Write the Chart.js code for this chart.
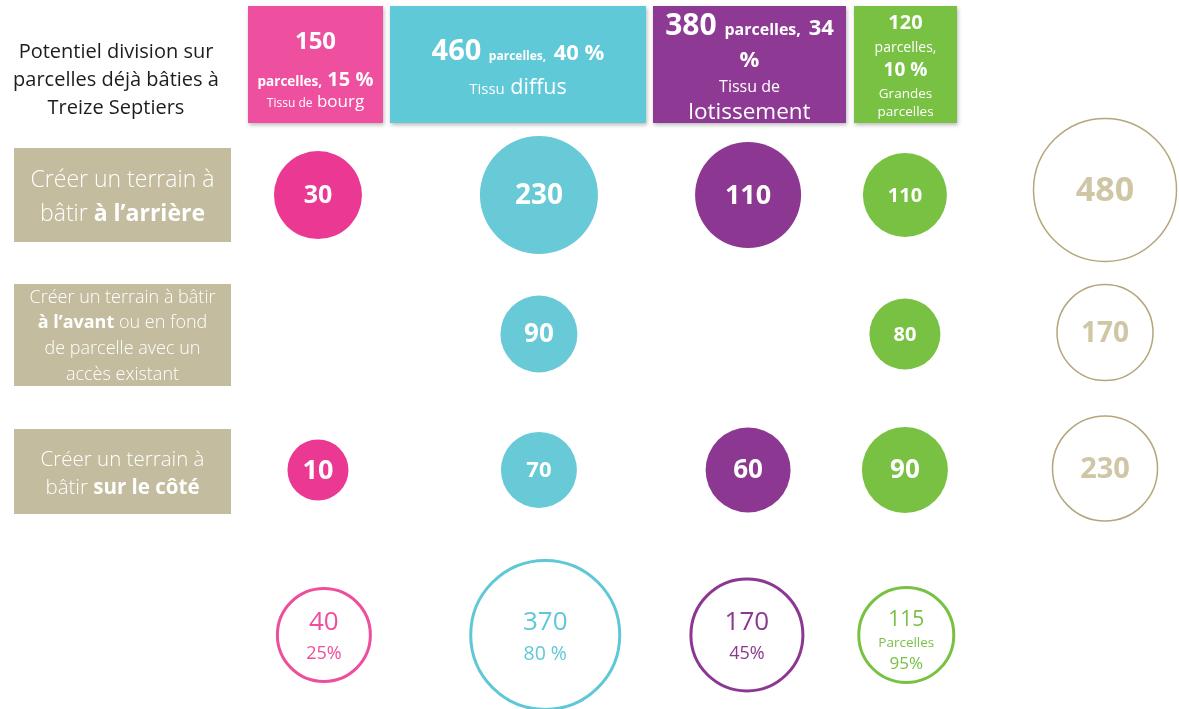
<!DOCTYPE html>
<html lang="fr">
<head>
<meta charset="utf-8">
<title>Potentiel division sur parcelles déjà bâties à Treize Septiers</title>
<script src="https://cdn.jsdelivr.net/npm/chart.js@4.4.1/dist/chart.umd.min.js"></script>
<style>
  html, body { margin: 0; padding: 0; background: #fff; overflow: hidden; }
  body { width: 1179px; height: 709px; position: relative; font-family: "Open Sans", sans-serif; }
  #bulles { position: absolute; left: 0; top: 0; }
  .titre { position: absolute; left: 0; top: 37px; width: 232px; text-align: center;
           font-size: 20px; line-height: 28px; color: #1d1d1d; }
  .entete { position: absolute; top: 6px; height: 117px; color: #fff; text-align: center;
            box-shadow: 1px 2px 4px rgba(0,0,0,0.28); }
  .entete div { position: absolute; left: 0; right: 0; height: 30px; line-height: 30px; white-space: nowrap; }
  .entete span, .entete b { line-height: 1; }
  .mode { position: absolute; left: 14px; width: 217px; background: #c3bc9f; color: #fff;
          text-align: center; font-weight: 300; display: flex; flex-direction: column; justify-content: center; }
  .mode b { font-weight: 700; }
</style>
</head>
<body>
<canvas id="bulles" width="1179" height="709"></canvas>
<div class="titre">Potentiel division sur<br>parcelles déjà bâties à<br>Treize Septiers</div>
<div class="mode" style="top:148px;height:94px;font-size:23px;line-height:34px;">
  <div>Créer un terrain à</div><div>bâtir <b>à l’arrière</b></div>
</div>
<div class="mode" style="top:284px;height:102px;font-size:18px;line-height:25.7px;">
  <div>Créer un terrain à bâtir</div><div><b>à l’avant</b> ou en fond</div>
  <div>de parcelle avec un</div><div>accès existant</div>
</div>
<div class="mode" style="top:429px;height:85px;font-size:20.5px;line-height:28px;">
  <div>Créer un terrain à</div><div>bâtir <b>sur le côté</b></div>
</div>
<script>
// Parcelles déjà bâties par type de tissu
const tissus = ['Tissu de bourg', 'Tissu diffus', 'Tissu de lotissement', 'Grandes parcelles'];
const parcellesBaties = [150, 460, 380, 120];
const partParcelles = [15, 40, 34, 10];

// Terrains à bâtir possibles, par mode de division
const arriere = [30, 230, 110, 110];
const avant = [null, 90, null, 80];
const cote = [10, 70, 60, 90];
const totalParMode = [480, 170, 230];

// Potentiel par tissu
const potentiel = [40, 370, 170, 115];
const tauxPotentiel = [25, 80, 45, 95];

// mise en page (unités des échelles) et styles
const colX = [0, 1.123, 2.186, 2.983, 4];
const colXPotentiel = [0.03, 1.155, 2.18, 2.99];
const rowY = [0, 0.948, 1.875, 3];
const couleurs = ['#ea3893', '#69cad7', '#8c3892', '#78c142'];
const couleursTexte = ['#ee4f9c', '#5ec8d6', '#8c3892', '#78c142'];
const couleursEntete = ['#ee4f9e', '#5fc9d8', '#8e3a94', '#78c142'];
const rayons = {
  arriere: [44, 59, 53, 42],
  avant: [0, 38.5, 0, 35.5],
  cote: [30.5, 38, 42.5, 43],
  total: [71.5, 48, 52.5],
  potentiel: [46.5, 74.5, 56, 47.5]
};
const taillesTexte = {
  arriere: [25, 28, 27, 20],
  avant: [0, 26, 0, 20],
  cote: [27, 22, 26, 26],
  total: [34, 28, 29]
};

// en-têtes colorés
const entetes = [
  { left: 248, width: 135, lignes: [
    { y: 40, size: 24, html: n => `<b>${n}</b>` },
    { y: 79, size: 20, html: (n, p) => `<b style="font-size:13.5px">parcelles,</b> <b>${p} %</b>` },
    { y: 101, size: 17, html: () => `<span style="font-size:12px">Tissu de</span> bourg` }
  ]},
  { left: 390, width: 256, lignes: [
    { y: 49, size: 29, html: (n, p) => `<b>${n}</b> <b style="font-size:12px">parcelles,</b> <b style="font-size:22px">${p} %</b>` },
    { y: 86, size: 21.5, html: () => `<span style="font-size:15px">Tissu</span> diffus` }
  ]},
  { left: 653, width: 193, lignes: [
    { y: 24, size: 30, html: (n, p) => `<b>${n}</b> <b style="font-size:16px">parcelles,</b> <b style="font-size:22px">${p}</b>` },
    { y: 58, size: 22, html: () => `<b>%</b>` },
    { y: 86, size: 16, html: () => `Tissu de` },
    { y: 111, size: 22.5, html: () => `lotissement` }
  ]},
  { left: 854, width: 103, lignes: [
    { y: 22, size: 20, html: n => `<b>${n}</b>` },
    { y: 47, size: 14, html: () => `parcelles,` },
    { y: 69, size: 19, html: (n, p) => `<b>${p} %</b>` },
    { y: 93, size: 13.5, html: () => `Grandes` },
    { y: 111, size: 13.5, html: () => `parcelles` }
  ]}
];

entetes.forEach((e, i) => {
  const box = document.createElement('div');
  box.className = 'entete';
  box.title = tissus[i];
  box.style.left = e.left + 'px';
  box.style.width = e.width + 'px';
  box.style.background = couleursEntete[i];
  e.lignes.forEach(l => {
    const d = document.createElement('div');
    d.style.top = (l.y - 6 - 15) + 'px';
    d.style.fontSize = l.size + 'px';
    d.innerHTML = l.html(parcellesBaties[i], partParcelles[i]);
    box.appendChild(d);
  });
  document.body.appendChild(box);
});

function rangee(nom, valeurs, ligne) {
  const pts = [];
  valeurs.forEach((v, i) => {
    if (v !== null) pts.push({ x: colX[i], y: rowY[ligne], r: rayons[nom][i], v: v, col: i });
  });
  return {
    label: nom,
    data: pts,
    backgroundColor: pts.map(p => couleurs[p.col]),
    borderWidth: 0,
    clip: false,
    etiquettes: p => [{ text: String(p.v), font: `bold ${taillesTexte[nom][p.col]}px "Open Sans"`, color: '#fff', dy: 1 }]
  };
}

const datasets = [
  rangee('arriere', arriere, 0),
  rangee('avant', avant, 1),
  rangee('cote', cote, 2),
  {
    label: 'total',
    data: totalParMode.map((v, i) => ({ x: colX[4], y: rowY[i] - (i === 0 ? 0.035 : 0.01), r: rayons.total[i], v: v, col: i })),
    backgroundColor: '#fff',
    borderColor: '#b4a67b',
    borderWidth: 1.5,
    clip: false,
    etiquettes: p => [{ text: String(p.v), font: `bold ${taillesTexte.total[p.col]}px "Open Sans"`, color: '#cfc6a6', dy: 1 }]
  },
  {
    label: 'potentiel',
    data: potentiel.map((v, i) => ({ x: colXPotentiel[i], y: rowY[3], r: rayons.potentiel[i], v: v, col: i })),
    backgroundColor: '#fff',
    borderColor: couleursTexte,
    borderWidth: 3,
    clip: false,
    etiquettes: p => {
      const c = couleursTexte[p.col];
      const t = tauxPotentiel[p.col];
      if (p.col === 3) {
        return [
          { text: String(p.v), font: '21px "Open Sans"', color: c, dy: -15 },
          { text: 'Parcelles', font: '13.5px "Open Sans"', color: c, dy: 8 },
          { text: t + '%', font: '17px "Open Sans"', color: c, dy: 29 }
        ];
      }
      return [
        { text: String(p.v), font: '26px "Open Sans"', color: c, dy: -12 },
        { text: p.col === 1 ? t + ' %' : t + '%', font: (p.col === 1 ? 19.5 : 18) + 'px "Open Sans"', color: c, dy: 19 }
      ];
    }
  }
];

// textes au centre des bulles
const etiquettesBulles = {
  id: 'etiquettesBulles',
  afterDatasetsDraw(chart) {
    const ctx = chart.ctx;
    chart.data.datasets.forEach((ds, di) => {
      const meta = chart.getDatasetMeta(di);
      meta.data.forEach((pt, j) => {
        ds.etiquettes(ds.data[j]).forEach(l => {
          ctx.save();
          ctx.font = l.font;
          ctx.fillStyle = l.color;
          ctx.textAlign = 'center';
          ctx.textBaseline = 'middle';
          ctx.fillText(l.text, pt.x, pt.y + l.dy);
          ctx.restore();
        });
      });
    });
  }
};

new Chart(document.getElementById('bulles'), {
  type: 'bubble',
  data: { datasets: datasets },
  options: {
    responsive: false,
    animation: false,
    events: [],
    layout: { padding: 0, autoPadding: false },
    plugins: { legend: { display: false }, tooltip: { enabled: false } },
    scales: {
      x: { type: 'linear', display: false, bounds: 'data', min: -1.616, max: 4.376 },
      y: { type: 'linear', display: false, bounds: 'data', reverse: true, min: -1.33, max: 3.505 }
    }
  },
  plugins: [etiquettesBulles]
});
</script>
</body>
</html>
